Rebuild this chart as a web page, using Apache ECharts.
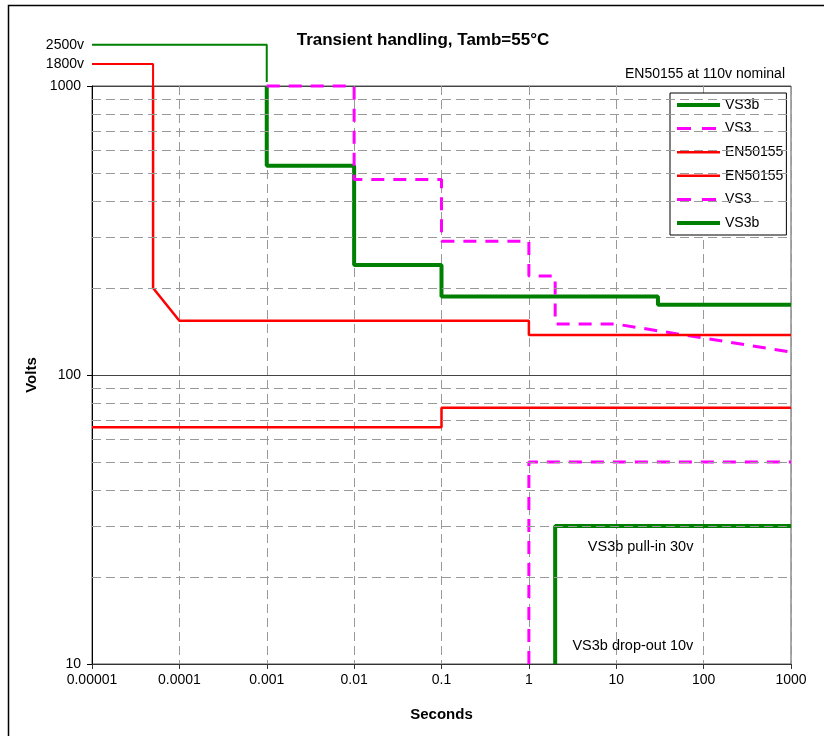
<!DOCTYPE html>
<html>
<head>
<meta charset="utf-8">
<script src="https://cdn.jsdelivr.net/npm/echarts@6/dist/echarts.min.js"></script>
<style>
html,body{margin:0;padding:0;background:#fff;}
#chart{width:824px;height:736px;}
</style>
</head>
<body>
<div id="chart"></div>
<script>
// ---- data ----
const xTickLabels = ['0.00001','0.0001','0.001','0.01','0.1','1','10','100','1000'];
const minorGridVolts = [20,30,40,50,60,70,80,90,200,300,400,500,600,700,800,900];
const topLabelVolts = [2500, 1800];

// upper limits (seconds, volts)
const vs3bUpperT = [0.001, 0.001, 0.01, 0.01, 0.1, 0.1, 30, 30, 1000];
const vs3bUpperV = [1000, 530, 530, 240, 240, 187, 187, 175, 175];
const vs3UpperT  = [0.001, 0.01, 0.01, 0.1, 0.1, 1, 1, 2, 2, 10, 1000];
const vs3UpperV  = [1000, 1000, 475, 475, 290, 290, 220, 220, 150, 150, 120];
const enUpperT   = [0.00005, 0.00005, 0.0001, 1, 1, 1000];
const enUpperV   = [1000, 200, 154, 154, 137.5, 137.5];
// lower limits
const enLowerT   = [0.00001, 0.1, 0.1, 1000];
const enLowerV   = [66, 66, 77, 77];
const vs3LowerT  = [1, 1, 1000];
const vs3LowerV  = [10, 50, 50];
const vs3bLowerT = [2, 2, 1000];
const vs3bLowerV = [10, 30, 30];
// peak transients above 1000 V
const vs3bPeakT = [0.00001, 0.001, 0.001];
const vs3bPeakV = [2500, 2500, 1150];
const enPeakT   = [0.00001, 0.00005, 0.00005];
const enPeakV   = [1800, 1800, 1000];
// annotations
const noteTexts = ['VS3b pull-in 30v', 'VS3b drop-out 10v'];
const noteT = [19, 15.5];
const noteV = [25.4, 11.5];

const zip = (a, b) => a.map((v, i) => [v, b[i]]);

const FONT = 'Liberation Sans, Arial, sans-serif';
const GREEN = '#008000', MAG = '#ff00ff', RED = '#ff0000';
const W_GREEN = 4, W_MAG = 3, W_RED = 2.5;

const chart = echarts.init(document.getElementById('chart'));

function lineSeries(name, t, v, color, width, dashed, grid) {
  return {
    name: name, type: 'line', data: zip(t, v),
    xAxisIndex: grid, yAxisIndex: grid,
    symbol: 'none', clip: false, animation: false,
    lineStyle: {color: color, width: width, type: dashed ? [13, 9] : 'solid'},
    itemStyle: {color: color}
  };
}

const series = [
  lineSeries('VS3b_a', vs3bUpperT, vs3bUpperV, GREEN, W_GREEN, false, 0),
  lineSeries('VS3_a', vs3UpperT, vs3UpperV, MAG, W_MAG, true, 0),
  lineSeries('EN50155_a', enUpperT, enUpperV, RED, W_RED, false, 0),
  lineSeries('EN50155_b', enLowerT, enLowerV, RED, W_RED, false, 0),
  lineSeries('VS3_b', vs3LowerT, vs3LowerV, MAG, W_MAG, true, 0),
  lineSeries('VS3b_b', vs3bLowerT, vs3bLowerV, GREEN, W_GREEN, false, 0),
  lineSeries('peak_vs3b', vs3bPeakT, vs3bPeakV, GREEN, 2, false, 1),
  lineSeries('peak_en', enPeakT, enPeakV, RED, 2, false, 1),
  {
    name: 'minorgrid', type: 'line', data: [], xAxisIndex: 0, yAxisIndex: 0,
    silent: true, z: 1,
    markLine: {
      silent: true, symbol: 'none', animation: false,
      label: {show: false},
      lineStyle: {color: '#999', type: [9, 5], width: 1},
      data: minorGridVolts.map(v => ({yAxis: v}))
    }
  }
];

const legendItem = (name, w, dashed) => ({name: name, lineStyle: {width: w, type: dashed ? [14, 11] : 'solid'}});

const option = {
  animation: false,
  backgroundColor: '#fff',
  textStyle: {fontFamily: FONT},
  title: [
    {text: 'Transient handling, Tamb=55°C', left: 418, top: 27, textAlign: 'center',
     textStyle: {fontSize: 17, fontWeight: 'bold', color: '#000', fontFamily: FONT}},
    {text: 'EN50155 at 110v nominal', right: 34, top: 62,
     textStyle: {fontSize: 14, fontWeight: 'normal', color: '#000', fontFamily: FONT}}
  ],
  legend: {
    orient: 'vertical', left: 670, top: 93,
    data: [
      legendItem('VS3b_a', W_GREEN, false),
      legendItem('VS3_a', W_MAG, true),
      legendItem('EN50155_a', W_RED, false),
      legendItem('EN50155_b', W_RED, false),
      legendItem('VS3_b', W_MAG, true),
      legendItem('VS3b_b', W_GREEN, false)
    ],
    formatter: n => n.split('_')[0],
    itemWidth: 43, itemHeight: 14, itemGap: 9.6,
    padding: [5, 3, 5, 5],
    borderColor: '#000', borderWidth: 1, backgroundColor: '#fff',
    itemStyle: {opacity: 0, borderWidth: 0},
    textStyle: {fontSize: 14, color: '#000', fontFamily: FONT},
    selectedMode: false
  },
  grid: [
    {left: 92, top: 86, width: 699, height: 578, show: true, borderColor: '#555', borderWidth: 1, containLabel: false},
    {left: 92, top: 31, width: 699, height: 55, show: false, containLabel: false}
  ],
  xAxis: [
    {type: 'log', logBase: 10, min: 0.00001, max: 1000, splitNumber: 8, gridIndex: 0,
     name: 'Seconds', nameLocation: 'middle', nameGap: 43,
     nameTextStyle: {fontSize: 15, fontWeight: 'bold', color: '#000', fontFamily: FONT},
     axisLine: {show: true, lineStyle: {color: '#333', width: 1}},
     axisTick: {show: true, length: 5, lineStyle: {color: '#333'}},
     axisLabel: {fontSize: 14, color: '#000', margin: 9, fontFamily: FONT,
       formatter: v => xTickLabels[Math.round(Math.log10(v)) + 5]},
     splitLine: {show: true, lineStyle: {color: '#999', type: [9, 5], width: 1}}},
    {type: 'log', logBase: 10, min: 0.00001, max: 1000, gridIndex: 1, show: false}
  ],
  yAxis: [
    {type: 'log', logBase: 10, min: 10, max: 1000, splitNumber: 2, gridIndex: 0,
     name: 'Volts', nameLocation: 'middle', nameGap: 50, nameRotate: 90,
     nameTextStyle: {fontSize: 15, fontWeight: 'bold', color: '#000', fontFamily: FONT},
     axisLine: {show: true, lineStyle: {color: '#000', width: 1}},
     axisTick: {show: true, length: 5, lineStyle: {color: '#000'}},
     axisLabel: {fontSize: 14, color: '#000', margin: 11, fontFamily: FONT,
       formatter: v => String(Math.round(v))},
     splitLine: {show: true, lineStyle: {color: '#444', type: 'solid', width: 1}}},
    {type: 'value', min: 1000, max: 3000, interval: 100, gridIndex: 1,
     axisLine: {show: false}, axisTick: {show: false}, splitLine: {show: false},
     axisLabel: {fontSize: 14, color: '#000', margin: 8, fontFamily: FONT,
       formatter: v => topLabelVolts.indexOf(v) >= 0 ? v + 'v' : ''}}
  ],
  graphic: [
    {id: 'frame', type: 'rect', shape: {x: 8.5, y: 5.5, width: 900, height: 900},
     style: {fill: null, stroke: '#000', lineWidth: 1.5}, silent: true, z: -10}
  ],
  series: series
};
chart.setOption(option);

// annotations placed through the axis scales
const notes = noteTexts.map((txt, i) => {
  const p = chart.convertToPixel({gridIndex: 0}, [noteT[i], noteV[i]]);
  return {id: 'note' + i, type: 'text', x: p[0], y: p[1], silent: true, z: 10,
    style: {text: txt, fill: '#000', font: '14.5px ' + FONT, textAlign: 'center', textVerticalAlign: 'middle'}};
});
chart.setOption({graphic: notes});
</script>
</body>
</html>
